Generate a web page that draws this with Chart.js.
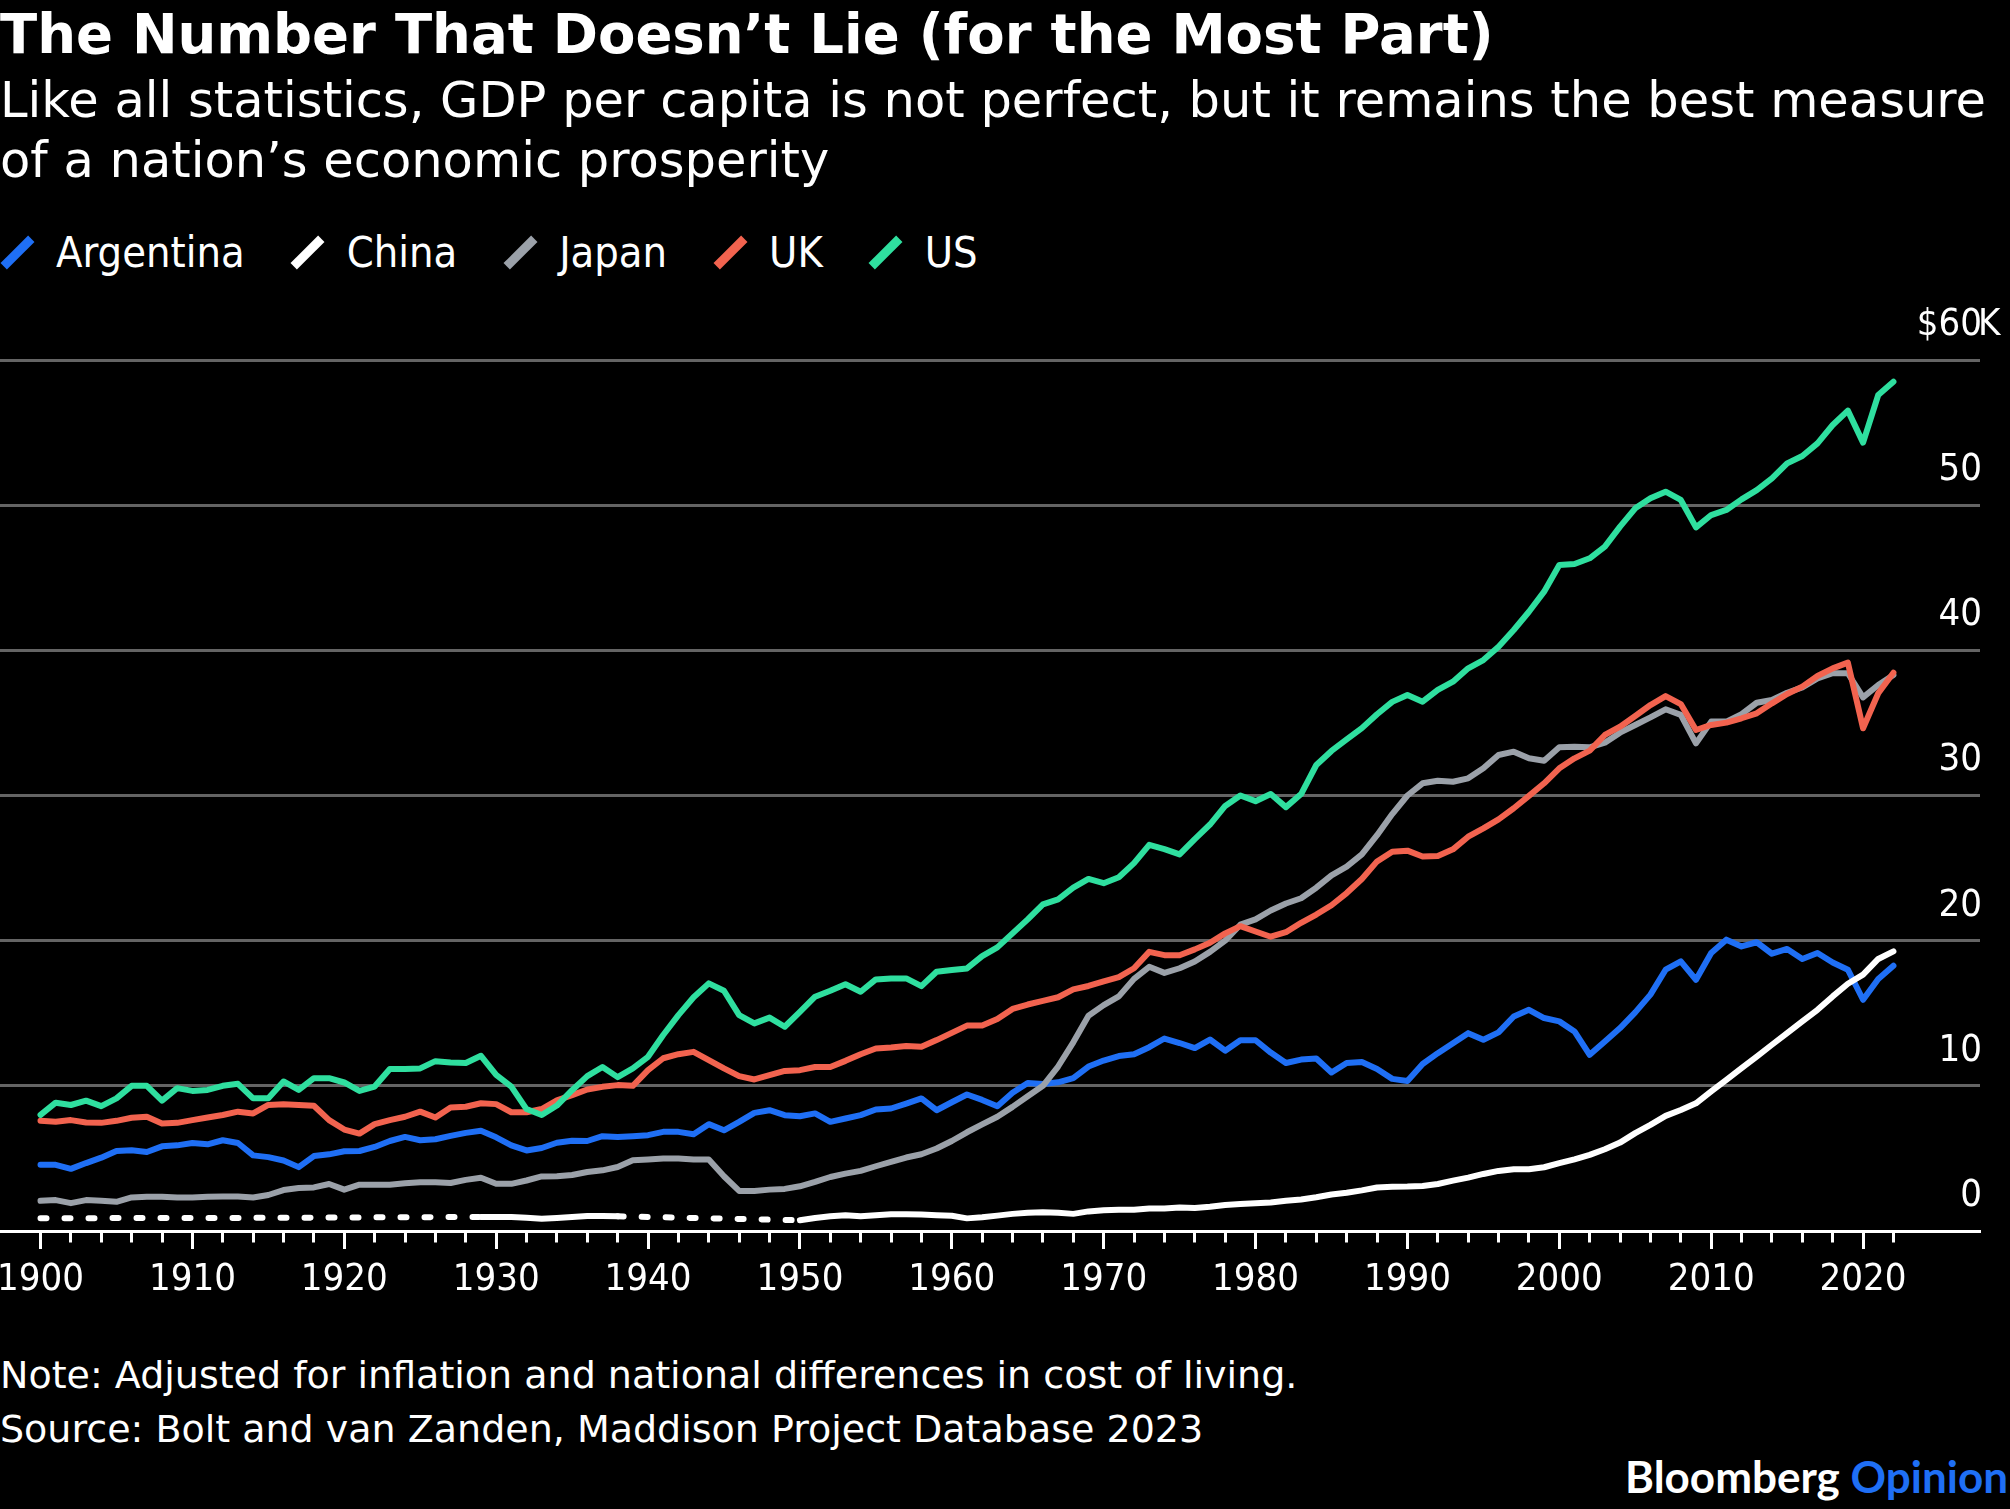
<!DOCTYPE html>
<html>
<head>
<meta charset="utf-8">
<script src="https://cdn.jsdelivr.net/npm/chart.js@4.4.1/dist/chart.umd.min.js"></script>
<style>
  html, body { margin: 0; padding: 0; background: #000; }
  body { width: 2010px; height: 1509px; position: relative; overflow: hidden; color: #fff;
         font-family: "DejaVu Sans Condensed", "DejaVu Sans", sans-serif; }
  #title { position: absolute; left: 0; top: 7px; font: bold 54.5px/54.5px "DejaVu Sans"; white-space: nowrap; }
  #subtitle { position: absolute; left: 0; top: 70px; font-family: "DejaVu Sans"; font-size: 49.5px; line-height: 60px; white-space: nowrap; }
  #legend { position: absolute; left: 0; top: 230.5px; height: 43px; display: flex; font-size: 43px; line-height: 43px; white-space: nowrap; }
  .item { display: flex; align-items: center; margin-right: 46px; }
  .mark { width: 34px; height: 43px; position: relative; margin-right: 22px; }
  .mark i { position: absolute; left: 12.5px; top: 2px; width: 9px; height: 39px; transform: rotate(45deg); }
  #chart { position: absolute; left: 0; top: 300px; width: 2010px; height: 1001px; }
  #notes { position: absolute; left: 0; top: 1348px; font-family: "DejaVu Sans"; font-size: 38px; line-height: 54px; white-space: nowrap; }
  #brand { position: absolute; right: 2px; top: 1454px; font: bold 44px/44px Lato; white-space: nowrap; }
  #brand span { color: #1f6ff5; }
</style>
</head>
<body>
<div id="title">The Number That Doesn’t Lie (for the Most Part)</div>
<div id="subtitle">Like all statistics, GDP per capita is not perfect, but it remains the best measure<br>of a nation’s economic prosperity</div>
<div id="legend"></div>
<div id="chart"><canvas id="gdpChart"></canvas></div>
<div id="notes">Note: Adjusted for inflation and national differences in cost of living.<br>Source: Bolt and van Zanden, Maddison Project Database 2023</div>
<div id="brand">Bloomberg <span>Opinion</span></div>

<script>
// GDP per capita, thousands of 2011 dollars
var years = [
  1900, 1901, 1902, 1903, 1904, 1905, 1906, 1907, 1908, 1909,
  1910, 1911, 1912, 1913, 1914, 1915, 1916, 1917, 1918, 1919,
  1920, 1921, 1922, 1923, 1924, 1925, 1926, 1927, 1928, 1929,
  1930, 1931, 1932, 1933, 1934, 1935, 1936, 1937, 1938, 1939,
  1940, 1941, 1942, 1943, 1944, 1945, 1946, 1947, 1948, 1949,
  1950, 1951, 1952, 1953, 1954, 1955, 1956, 1957, 1958, 1959,
  1960, 1961, 1962, 1963, 1964, 1965, 1966, 1967, 1968, 1969,
  1970, 1971, 1972, 1973, 1974, 1975, 1976, 1977, 1978, 1979,
  1980, 1981, 1982, 1983, 1984, 1985, 1986, 1987, 1988, 1989,
  1990, 1991, 1992, 1993, 1994, 1995, 1996, 1997, 1998, 1999,
  2000, 2001, 2002, 2003, 2004, 2005, 2006, 2007, 2008, 2009,
  2010, 2011, 2012, 2013, 2014, 2015, 2016, 2017, 2018, 2019,
  2020, 2021, 2022
];

var argentina = [
  4.56, 4.56, 4.28, 4.68, 5.05, 5.51, 5.56, 5.44, 5.83, 5.90,
  6.06, 5.97, 6.25, 6.06, 5.21, 5.09, 4.86, 4.40, 5.16, 5.28,
  5.49, 5.51, 5.79, 6.20, 6.48, 6.25, 6.32, 6.55, 6.76, 6.90,
  6.45, 5.90, 5.55, 5.72, 6.08, 6.22, 6.20, 6.53, 6.48, 6.53,
  6.60, 6.83, 6.83, 6.67, 7.36, 6.94, 7.52, 8.14, 8.32, 7.98,
  7.90, 8.10, 7.52, 7.75, 7.98, 8.37, 8.44, 8.78, 9.13, 8.32,
  8.87, 9.40, 9.03, 8.60, 9.52, 10.19, 10.12, 10.24, 10.53, 11.33,
  11.74, 12.05, 12.17, 12.66, 13.26, 12.95, 12.60, 13.19, 12.42, 13.14,
  13.14, 12.29, 11.57, 11.81, 11.88, 10.92, 11.57, 11.64, 11.16, 10.48,
  10.33, 11.50, 12.25, 12.94, 13.63, 13.17, 13.68, 14.78, 15.24, 14.67,
  14.44, 13.75, 12.14, 13.06, 13.98, 15.06, 16.28, 18.00, 18.57, 17.31,
  19.15, 20.07, 19.60, 19.89, 19.10, 19.43, 18.74, 19.15, 18.50, 18.00,
  15.93, 17.36, 18.28
];

// null = year missing from the database (drawn dashed)
var china = [
  0.88, null, null, null, null, null, null, null, null, null,
  null, null, null, 0.90, null, null, null, null, null, null,
  null, null, null, null, null, null, null, null, null, 0.97,
  0.97, 0.97, 0.92, 0.85, 0.90, 0.97, 1.03, 1.03, 1.01, null,
  null, null, null, null, null, null, null, null, null, null,
  0.74, 0.90, 1.01, 1.08, 1.01, 1.08, 1.15, 1.15, 1.13, 1.08,
  1.05, 0.87, 0.94, 1.06, 1.18, 1.26, 1.30, 1.26, 1.18, 1.35,
  1.43, 1.47, 1.47, 1.55, 1.55, 1.62, 1.59, 1.67, 1.79, 1.86,
  1.91, 1.96, 2.08, 2.17, 2.32, 2.51, 2.63, 2.80, 3.00, 3.05,
  3.06, 3.10, 3.24, 3.47, 3.68, 3.93, 4.14, 4.25, 4.25, 4.39,
  4.67, 4.94, 5.24, 5.63, 6.09, 6.74, 7.31, 7.93, 8.34, 8.80,
  9.61, 10.41, 11.22, 12.02, 12.83, 13.63, 14.44, 15.24, 16.16, 17.03,
  17.66, 18.74, 19.26
];

var japan = [
  2.08, 2.13, 1.92, 2.13, 2.08, 2.01, 2.31, 2.36, 2.36, 2.31,
  2.31, 2.36, 2.38, 2.38, 2.31, 2.48, 2.82, 2.96, 3.00, 3.24,
  2.85, 3.19, 3.19, 3.19, 3.29, 3.36, 3.36, 3.31, 3.52, 3.67,
  3.25, 3.25, 3.48, 3.76, 3.77, 3.86, 4.06, 4.18, 4.41, 4.87,
  4.92, 4.99, 4.99, 4.92, 4.92, 3.77, 2.76, 2.76, 2.85, 2.90,
  3.08, 3.38, 3.72, 3.95, 4.14, 4.46, 4.76, 5.06, 5.29, 5.68,
  6.20, 6.80, 7.34, 7.87, 8.55, 9.28, 10.00, 11.33, 13.00, 14.83,
  15.56, 16.16, 17.37, 18.20, 17.78, 18.10, 18.57, 19.23, 20.00, 21.10,
  21.47, 22.08, 22.56, 22.92, 23.65, 24.50, 25.10, 25.94, 27.27, 28.72,
  30.00, 30.84, 31.02, 30.95, 31.18, 31.87, 32.79, 33.02, 32.56, 32.40,
  33.32, 33.36, 33.32, 33.64, 34.33, 34.86, 35.38, 35.94, 35.55, 33.59,
  35.09, 35.09, 35.61, 36.39, 36.58, 37.08, 37.45, 38.07, 38.42, 38.42,
  36.76, 37.61, 38.30
];

var uk = [
  7.59, 7.52, 7.64, 7.48, 7.45, 7.59, 7.80, 7.87, 7.41, 7.45,
  7.64, 7.82, 7.99, 8.22, 8.10, 8.68, 8.73, 8.68, 8.63, 7.64,
  6.99, 6.71, 7.36, 7.64, 7.87, 8.22, 7.82, 8.50, 8.56, 8.80,
  8.74, 8.18, 8.18, 8.40, 9.00, 9.36, 9.75, 9.93, 10.05, 10.00,
  11.08, 11.90, 12.18, 12.34, 11.77, 11.20, 10.67, 10.44, 10.74, 11.03,
  11.08, 11.30, 11.30, 11.72, 12.18, 12.57, 12.64, 12.74, 12.69, 13.15,
  13.65, 14.15, 14.15, 14.60, 15.30, 15.60, 15.85, 16.10, 16.64, 16.88,
  17.20, 17.49, 18.10, 19.23, 19.00, 19.00, 19.40, 19.86, 20.50, 21.00,
  20.63, 20.27, 20.58, 21.23, 21.80, 22.44, 23.28, 24.25, 25.46, 26.13,
  26.20, 25.80, 25.83, 26.29, 27.16, 27.74, 28.36, 29.12, 29.97, 30.84,
  31.87, 32.56, 33.09, 34.17, 34.74, 35.48, 36.23, 36.85, 36.30, 34.51,
  34.86, 35.02, 35.32, 35.66, 36.35, 36.99, 37.50, 38.23, 38.76, 39.15,
  34.63, 37.04, 38.46
];

var us = [
  8.00, 8.84, 8.68, 8.98, 8.60, 9.14, 10.00, 10.00, 8.98, 9.84,
  9.65, 9.72, 10.00, 10.14, 9.14, 9.14, 10.30, 9.72, 10.53, 10.53,
  10.23, 9.65, 9.95, 11.16, 11.16, 11.20, 11.70, 11.60, 11.57, 12.07,
  10.75, 9.95, 8.40, 7.99, 8.64, 9.70, 10.67, 11.30, 10.60, 11.20,
  12.00, 13.50, 14.87, 16.10, 17.06, 16.55, 14.87, 14.30, 14.70, 14.07,
  15.10, 16.14, 16.55, 17.00, 16.48, 17.33, 17.40, 17.40, 16.87, 17.86,
  17.98, 18.09, 18.94, 19.54, 20.50, 21.47, 22.50, 22.85, 23.65, 24.25,
  23.96, 24.37, 25.34, 26.60, 26.30, 25.94, 27.00, 28.00, 29.28, 30.00,
  29.61, 30.10, 29.20, 30.10, 32.10, 33.07, 33.86, 34.64, 35.60, 36.45,
  36.92, 36.46, 37.27, 37.84, 38.76, 39.33, 40.25, 41.40, 42.66, 44.04,
  45.88, 45.95, 46.34, 47.14, 48.52, 49.78, 50.47, 50.93, 50.36, 48.47,
  49.32, 49.67, 50.40, 51.04, 51.85, 52.88, 53.39, 54.26, 55.52, 56.51,
  54.31, 57.59, 58.51
];

var seriesNames = ['Argentina', 'China', 'Japan', 'UK', 'US'];
var seriesColors = ['#1f6ff5', '#ffffff', '#9ba1a9', '#f2634f', '#2fdf9f'];
var seriesValues = [argentina, china, japan, uk, us];

var xTickLabels = ['1900', '1910', '1920', '1930', '1940', '1950', '1960',
                   '1970', '1980', '1990', '2000', '2010', '2020'];
var yTickLabels = ['0', '10', '20', '30', '40', '50', '$60'];
var yTopSuffix = 'K';

var FONT = '"DejaVu Sans Condensed", "DejaVu Sans", sans-serif';

// legend
var legend = document.getElementById('legend');
seriesNames.forEach(function(name, i){
    var item = document.createElement('div');
    item.className = 'item';
    item.innerHTML = '<span class="mark"><i style="background:' + seriesColors[i] + '"></i></span>' + name;
    legend.appendChild(item);
});

// "K" after "$60" hangs past the number column
var topSuffix = {
    id: 'topSuffix',
    afterDraw: function(chart){
        var y = chart.scales.y;
        var ctx = chart.ctx;
        ctx.save();
        ctx.font = '38px ' + FONT;
        ctx.fillStyle = '#fff';
        ctx.textAlign = 'left';
        ctx.textBaseline = 'middle';
        ctx.fillText(yTopSuffix, chart.chartArea.right - 2, y.getPixelForValue(60) - 35);
        ctx.restore();
    }
};

var datasets = seriesNames.map(function(name, s){
    return {
        label: name,
        data: years.map(function(yr, i){ return {x: yr, y: seriesValues[s][i]}; }),
        borderColor: seriesColors[s],
        borderWidth: 6,
        borderCapStyle: 'round',
        borderJoinStyle: 'round',
        pointRadius: 0,
        tension: 0,
        spanGaps: true,
        order: seriesNames.length - s,
        segment: {
            borderDash: function(ctx){ return (ctx.p0.skip || ctx.p1.skip) ? [6, 18] : undefined; }
        }
    };
});

var ctx = document.getElementById('gdpChart').getContext('2d');
var gdpChart = new Chart(ctx, {
    type: 'line',
    data: { datasets: datasets },
    plugins: [topSuffix],
    options: {
        responsive: true,
        maintainAspectRatio: false,
        animation: false,
        layout: { padding: { top: 60, right: 30, bottom: 0, left: 0 } },
        plugins: { legend: { display: false }, tooltip: { enabled: false } },
        scales: {
            x: {
                type: 'linear',
                min: 1897.333,
                max: 2027.7,
                afterBuildTicks: function(scale){
                    scale.ticks = years.filter(function(y){ return y % 2 === 0; })
                                       .map(function(y){ return {value: y}; });
                },
                afterFit: function(scale){
                    scale.height = 70;
                    scale.paddingLeft = 0;
                    scale.paddingRight = 0;
                },
                grid: {
                    drawOnChartArea: false,
                    drawTicks: true,
                    tickLength: 18,
                    tickWidth: 3,
                    tickColor: '#ffffff',
                    tickBorderDash: function(c){
                        return (c.tick && c.tick.value % 10 === 0) ? [] : [9.5, 40];
                    }
                },
                border: { display: true, color: '#ffffff', width: 3 },
                ticks: {
                    autoSkip: false,
                    maxRotation: 0,
                    padding: 8,
                    color: '#ffffff',
                    font: { family: FONT, size: 38 },
                    callback: function(v){
                        return xTickLabels.indexOf(String(v)) >= 0 ? String(v) : '';
                    }
                }
            },
            y: {
                position: 'right',
                min: 0,
                max: 60,
                afterFit: function(scale){
                    scale.width = 0;
                    scale.paddingTop = 0;
                    scale.paddingBottom = 0;
                },
                grid: {
                    drawTicks: false,
                    lineWidth: 3,
                    color: function(c){
                        return (c.tick && c.tick.value === 0) ? 'rgba(0,0,0,0)' : '#646464';
                    }
                },
                border: { display: false },
                ticks: {
                    stepSize: 10,
                    mirror: true,
                    padding: 2,
                    labelOffset: -35,
                    color: '#ffffff',
                    font: { family: FONT, size: 38 },
                    callback: function(v){ return yTickLabels[Math.round(v / 10)]; }
                }
            }
        }
    }
});
</script>
</body>
</html>
